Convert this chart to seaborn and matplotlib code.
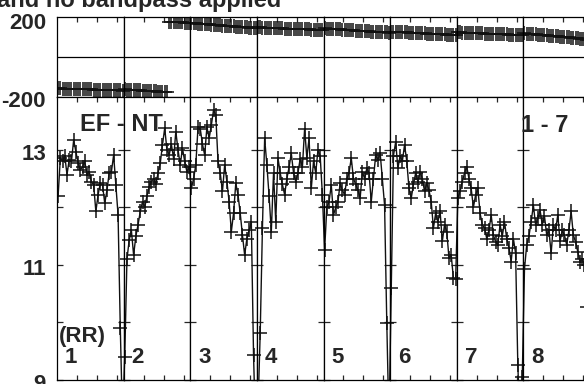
import numpy as np
import pandas as pd
import matplotlib
matplotlib.use("Agg")
import matplotlib.pyplot as plt
import matplotlib.transforms as mtransforms
import seaborn as sns

# text on the plot
title = "and no bandpass applied"
baseline_name = "EF - NT"
source_range = "1 - 7"
stokes = "(RR)"
scan_labels = ["1", "2", "3", "4", "5", "6", "7", "8"]

points_per_scan = 30
x_ticks_in_scan = [9, 18, 27]

amp_yticks = [9, 10, 11, 12, 13]
amp_ylabels = ["9", "", "11", "", "13"]
phase_yticks = [-200, 200]
phase_ylabels = ["-200", "200"]

# amplitude, one list per scan
amp_scan1 = [12.2, 12.86, 12.8, 12.9, 12.57, 12.83, 12.8, 13.17, 12.97, 12.77,
             12.65, 12.71, 12.8, 12.57, 12.62, 12.45, 12.39, 11.93, 12.22, 12.42,
             12.39, 12.07, 12.3, 12.6, 12.62, 12.91, 12.39, 11.87, 9.9, 8.3]
amp_scan2 = [9.4, 11.1, 11.43, 11.6, 11.17, 11.5, 11.7, 11.93, 12.1, 12.0,
             12.2, 12.35, 12.45, 12.5, 12.4, 12.6, 12.77, 13.09, 13.38, 13.0,
             12.91, 13.1, 12.85, 13.32, 13.0, 12.74, 13.03, 12.8, 12.62, 12.7]
amp_scan3 = [12.33, 12.5, 12.74, 13.4, 13.37, 13.1, 12.91, 13.4, 13.2, 13.43,
             13.7, 13.6, 12.8, 12.6, 12.28, 12.74, 12.45, 12.1, 11.58, 11.9,
             12.42, 12.22, 11.9, 11.52, 11.17, 11.46, 11.6, 11.75, 9.43, 8.0]
amp_scan4 = [8.5, 9.82, 11.64, 13.2, 12.74, 12.2, 11.58, 12.6, 11.75, 12.86,
             12.6, 12.4, 12.22, 12.5, 12.7, 12.94, 12.6, 12.45, 12.6, 12.85,
             12.7, 13.37, 12.86, 13.2, 12.33, 12.8, 12.6, 13.0, 12.9, 12.22]
amp_scan5 = [11.26, 12.0, 12.1, 12.39, 11.87, 12.0, 12.1, 12.42, 12.3, 12.22,
             12.5, 12.6, 12.86, 12.5, 12.4, 12.3, 12.16, 12.62, 12.5, 12.68,
             12.6, 12.1, 12.5, 12.91, 12.83, 12.95, 12.5, 12.04, 9.99, 8.2]
amp_scan6 = [10.6, 12.9, 13.14, 12.68, 12.9, 12.8, 13.09, 12.8, 12.33, 12.16,
             12.4, 12.6, 12.45, 12.62, 12.5, 12.28, 12.42, 12.3, 12.1, 11.64,
             11.9, 11.75, 11.93, 11.41, 11.7, 11.58, 11.12, 11.17, 10.77, 10.75]
amp_scan7 = [12.16, 12.28, 12.45, 12.6, 12.71, 12.5, 12.33, 12.0, 12.22, 12.33,
             11.9, 11.7, 11.64, 11.46, 11.6, 11.87, 11.52, 11.4, 11.35, 11.7,
             11.5, 11.75, 11.46, 11.3, 11.06, 11.46, 11.2, 9.26, 8.2, 9.05]
amp_scan8 = [10.93, 11.35, 11.5, 11.75, 12.04, 11.7, 11.81, 11.96, 11.7, 11.85,
             11.52, 11.6, 11.2, 11.7, 11.6, 11.87, 11.41, 11.6, 11.52, 11.35,
             11.6, 11.93, 11.52, 11.4, 11.23, 11.06, 11.1, 11.0, 10.27, 11.0]

# phase in degrees, one list per scan
phase_scan1 = [-157, -157, -158, -158, -158, -159, -159, -160, -160, -160,
               -161, -161, -161, -162, -162, -162, -163, -163, -164, -164,
               -164, -165, -165, -165, -166, -166, -167, -167, -167, -168]
phase_scan2 = [-162, -163, -163, -164, -165, -165, -166, -167, -168, -168,
               -169, -170, -171, -171, -172, -173, -174, -175, -176, -177,
               177, 176, 176, 175, 174, 173, 173, 172, 171, 170]
phase_scan3 = [170, 169, 168, 167, 166, 166, 165, 164, 163, 162,
               161, 160, 159, 158, 157, 157, 156, 155, 154, 153,
               152, 151, 150, 149, 149, 148, 147, 146, 146, 145]
phase_scan4 = [148, 148, 147, 147, 146, 146, 145, 145, 144, 144,
               143, 143, 142, 142, 141, 141, 140, 140, 139, 139,
               139, 138, 138, 138, 137, 137, 137, 136, 136, 136]
phase_scan5 = [143, 142, 141, 141, 140, 139, 138, 138, 137, 136,
               135, 134, 134, 133, 132, 131, 131, 130, 129, 128,
               128, 127, 126, 126, 125, 124, 124, 123, 123, 122]
phase_scan6 = [127, 126, 126, 125, 125, 124, 123, 123, 122, 122,
               121, 120, 120, 119, 119, 118, 117, 117, 116, 116,
               115, 114, 114, 113, 113, 112, 112, 111, 111, 110]
phase_scan7 = [123, 123, 122, 122, 121, 121, 120, 120, 119, 119,
               118, 118, 117, 117, 117, 116, 116, 115, 115, 114,
               114, 113, 113, 112, 112, 111, 111, 110, 110, 110]
phase_scan8 = [118, 117, 116, 115, 114, 113, 112, 111, 110, 109,
               108, 107, 106, 105, 104, 103, 102, 101, 100, 99,
               98, 97, 96, 95, 93, 92, 90, 88, 87, 86]

amp = (amp_scan1 + amp_scan2 + amp_scan3 + amp_scan4 +
       amp_scan5 + amp_scan6 + amp_scan7 + amp_scan8)
phase = (phase_scan1 + phase_scan2 + phase_scan3 + phase_scan4 +
         phase_scan5 + phase_scan6 + phase_scan7 + phase_scan8)

df = pd.DataFrame({"sample": np.arange(len(amp)) + 0.5, "amp": amp, "phase": phase})
# don't join the phase line across the +-180 wrap
df["segment"] = (df["phase"].diff().abs() > 180).cumsum()

sns.set_style("ticks")
plt.rcParams["font.family"] = ["Liberation Sans", "DejaVu Sans"]
plt.rcParams["font.weight"] = "bold"
plt.rcParams["axes.linewidth"] = 0.9

W, H = 584, 384
fig = plt.figure(figsize=(W / 100, H / 100), dpi=100)
left_px, strip_px = 57, 66.625
phase_top, phase_bot, amp_bot = 17, 97, 380

line_kw = dict(color="#111111", lw=1.0, marker="+", markersize=10,
               markeredgewidth=1.1, markeredgecolor="#111111", legend=False)
label_size = 16


def nudge(label, px):
    # move a tick label down by px pixels
    off = mtransforms.ScaledTranslation(0, -px / 100, fig.dpi_scale_trans)
    label.set_transform(label.get_transform() + off)


for i, lab in enumerate(scan_labels):
    x0 = (left_px + i * strip_px) / W
    axp = fig.add_axes([x0, 1 - phase_bot / H, strip_px / W, (phase_bot - phase_top) / H])
    axa = fig.add_axes([x0, 1 - amp_bot / H, strip_px / W, (amp_bot - phase_bot) / H])
    lo = i * points_per_scan
    xt = [lo + t for t in x_ticks_in_scan]

    # phase strip
    sns.lineplot(data=df, x="sample", y="phase", units="segment", estimator=None,
                 sort=False, ax=axp, **line_kw)
    axp.axhline(0, color="black", lw=0.9)
    axp.set_xlim(lo, lo + points_per_scan)
    axp.set_ylim(-200, 200)
    axp.set_xticks(xt)
    axp.set_yticks(phase_yticks)
    axp.set_yticklabels(phase_ylabels if i == 0 else [])
    axp.tick_params(axis="x", direction="in", top=True, bottom=False, length=3.5,
                    width=0.9, labelbottom=False)
    axp.tick_params(axis="y", length=0, labelsize=label_size, pad=8,
                    labelleft=(i == 0))

    # amplitude strip
    sns.lineplot(data=df, x="sample", y="amp", estimator=None, sort=False,
                 ax=axa, **line_kw)
    axa.set_xlim(lo, lo + points_per_scan)
    axa.set_ylim(9, 13.92)
    axa.set_xticks(xt)
    axa.set_yticks(amp_yticks)
    axa.set_yticklabels(amp_ylabels if i == 0 else [])
    axa.tick_params(axis="x", direction="in", top=True, bottom=True, length=3.5,
                    width=0.9, labelbottom=False)
    axa.tick_params(axis="y", direction="in", left=True, right=True, length=4,
                    width=0.9, labelsize=label_size, pad=8, labelleft=(i == 0))
    axa.text(0.12, 0.06, lab, transform=axa.transAxes, fontsize=label_size,
             fontweight="bold", va="baseline")
    if i == 0:
        axa.text(0.03, 0.134, stokes, transform=axa.transAxes, fontsize=label_size,
                 fontweight="bold", va="baseline")

    for ax in (axp, axa):
        ax.set_xlabel("")
        ax.set_ylabel("")
        for s in ax.spines.values():
            s.set_color("black")
            s.set_linewidth(0.9)
        for t in ax.get_yticklabels():
            t.set_fontweight("bold")

    if i == 0:
        for t in axp.get_yticklabels():
            nudge(t, 4 if t.get_text() == "200" else 2)
        for t in axa.get_yticklabels():
            nudge(t, 2)

fig.text(80 / W, 1 - 131 / H, baseline_name, fontsize=17, fontweight="bold", va="baseline")
fig.text(521 / W, 1 - 132 / H, source_range, fontsize=17, fontweight="bold", va="baseline")
fig.text(-3 / W, 1 - 7 / H, title, fontsize=17, fontweight="bold", va="baseline")

fig.savefig("out.png", dpi=100)
